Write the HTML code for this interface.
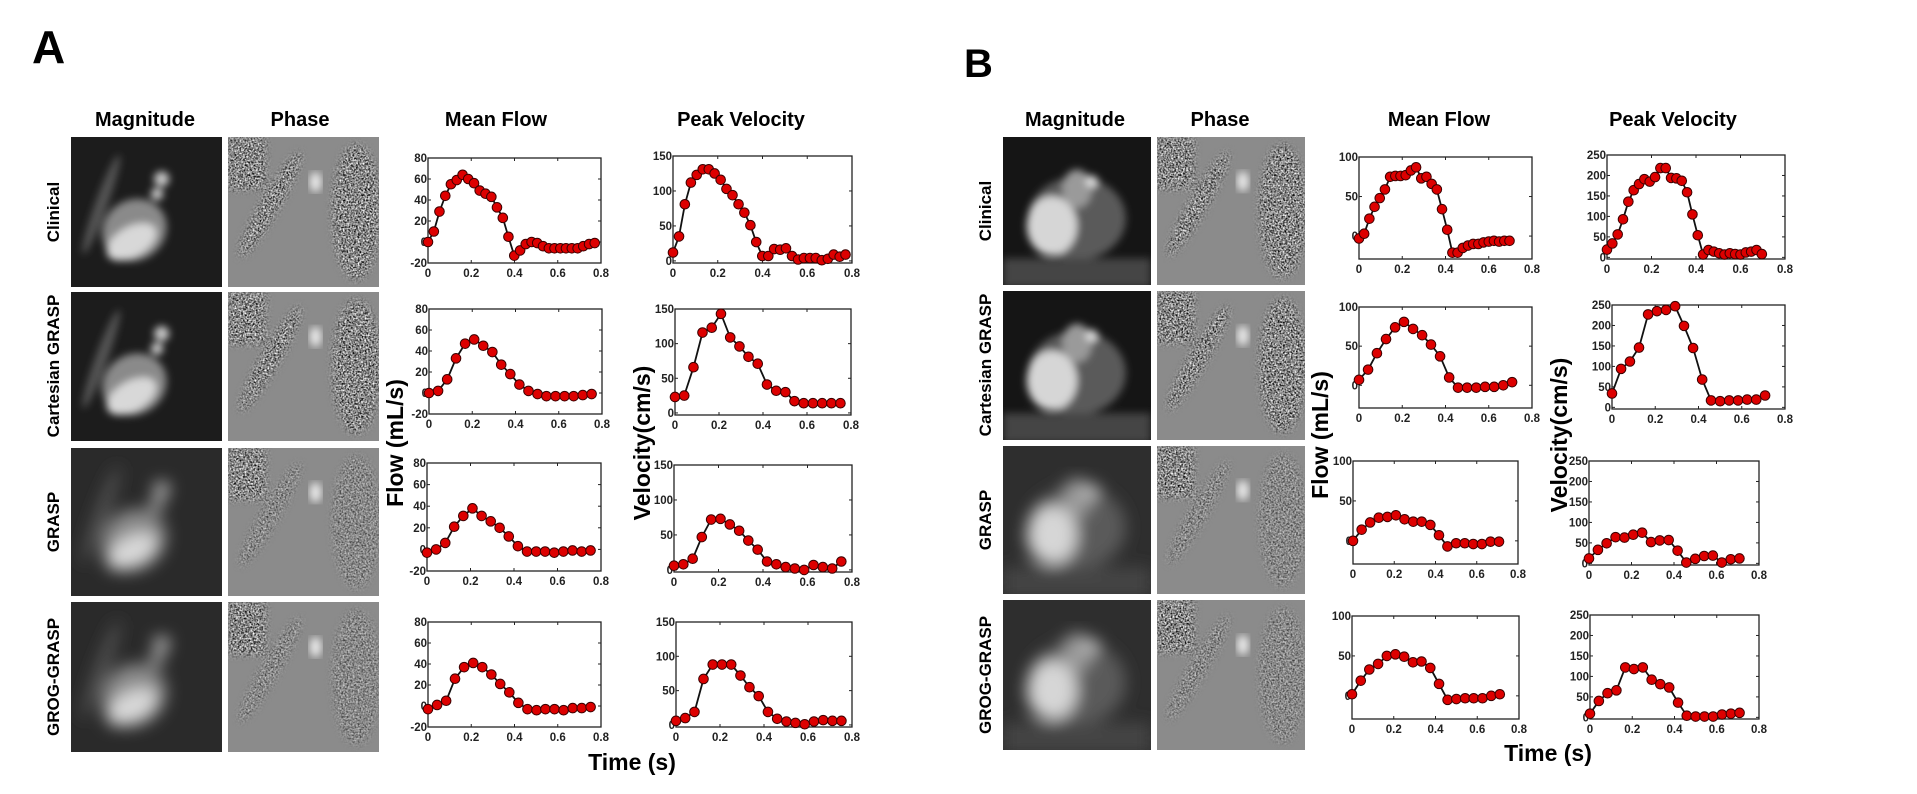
<!DOCTYPE html>
<html><head><meta charset="utf-8"><style>
html,body{margin:0;padding:0;background:#fff;}
svg{display:block;font-family:"Liberation Sans",Arial,sans-serif;}
</style></head><body>
<svg id="fig" width="1917" height="794" viewBox="0 0 1917 794" xmlns="http://www.w3.org/2000/svg">
<defs>
<filter id="noise" x="0" y="0" width="100%" height="100%">
<feTurbulence type="fractalNoise" baseFrequency="0.55" numOctaves="1" seed="3"/>
<feColorMatrix type="matrix" values="0 0 0 0 0  0 0 0 0 0  0 0 0 0 0  3 0 0 0 -1.2"/>
</filter>
<filter id="noiseW" x="0" y="0" width="100%" height="100%">
<feTurbulence type="fractalNoise" baseFrequency="0.6" numOctaves="1" seed="7"/>
<feColorMatrix type="matrix" values="0 0 0 0 1  0 0 0 0 1  0 0 0 0 1  3 0 0 0 -1.3"/>
</filter>
<filter id="blur4"><feGaussianBlur stdDeviation="4"/></filter>
<filter id="blur8"><feGaussianBlur stdDeviation="8"/></filter>
</defs>
<g id="images"></g>
<g id="charts"></g>
<text x="32" y="63" font-size="46" font-weight="bold">A</text>
<text x="964" y="77" font-size="40" font-weight="bold">B</text>
<g font-size="20" font-weight="bold" text-anchor="middle">
<text x="145" y="126">Magnitude</text>
<text x="300" y="126">Phase</text>
<text x="496" y="126">Mean Flow</text>
<text x="741" y="126">Peak Velocity</text>
<text x="1075" y="126">Magnitude</text>
<text x="1220" y="126">Phase</text>
<text x="1439" y="126">Mean Flow</text>
<text x="1673" y="126">Peak Velocity</text>
</g>
<g font-size="17" font-weight="bold" text-anchor="middle">
<text transform="translate(59,212) rotate(-90)">Clinical</text>
<text transform="translate(59,366) rotate(-90)">Cartesian GRASP</text>
<text transform="translate(59,522) rotate(-90)">GRASP</text>
<text transform="translate(59,677) rotate(-90)">GROG-GRASP</text>
<text transform="translate(991,211) rotate(-90)">Clinical</text>
<text transform="translate(991,365) rotate(-90)">Cartesian GRASP</text>
<text transform="translate(991,520) rotate(-90)">GRASP</text>
<text transform="translate(991,675) rotate(-90)">GROG-GRASP</text>
</g>
<g font-size="23" font-weight="bold" text-anchor="middle">
<text transform="translate(403,443) rotate(-90)">Flow (mL/s)</text>
<text transform="translate(650,443) rotate(-90)">Velocity(cm/s)</text>
<text x="632" y="770">Time (s)</text>
<text transform="translate(1328,435) rotate(-90)">Flow (mL/s)</text>
<text transform="translate(1567,435) rotate(-90)">Velocity(cm/s)</text>
<text x="1548" y="761">Time (s)</text>
</g>
</svg>
<script>
// ---- data ----
const xTicks = [0, 0.2, 0.4, 0.6, 0.8];
const xTickLabels = ["0", "0.2", "0.4", "0.6", "0.8"];
const flowTicksA = [-20, 0, 20, 40, 60, 80];
const velTicksA = [0, 50, 100, 150];
const flowTicksB = [0, 50, 100];
const velTicksB = [0, 50, 100, 150, 200, 250];

const timeA1 = [0,0.027,0.053,0.080,0.106,0.133,0.160,0.186,0.213,0.239,0.266,0.293,0.319,0.346,0.372,0.399,0.426,0.452,0.479,0.505,0.532,0.559,0.585,0.612,0.638,0.665,0.692,0.718,0.745,0.771];
const timeA = [0,0.042,0.084,0.125,0.167,0.209,0.251,0.293,0.334,0.376,0.418,0.460,0.502,0.543,0.585,0.627,0.669,0.711,0.752];
const timeB1 = [0,0.024,0.048,0.072,0.096,0.12,0.144,0.168,0.192,0.216,0.24,0.264,0.288,0.312,0.336,0.36,0.384,0.408,0.432,0.456,0.48,0.504,0.528,0.552,0.576,0.6,0.624,0.648,0.672,0.696];
const timeB = [0,0.042,0.083,0.125,0.167,0.208,0.25,0.292,0.333,0.375,0.417,0.458,0.5,0.542,0.583,0.625,0.667,0.708];

const flowA_clinical = [0,10,29,44,55,59,64,60,56,49,46,43,33,23,5,-13,-8,-2,0,-1,-4,-6,-6,-6,-6,-6,-6,-4,-2,-1];
const velA_clinical = [12,35,81,112,123,131,131,125,116,103,94,81,69,51,27,7,7,17,16,18,7,2,4,4,4,1,3,9,6,9];
const flowA_cart = [0,2,13,33,47,51,45,39,27,18,8,2,-1,-3,-3,-3,-3,-2,-1];
const velA_cart = [23,25,66,116,123,143,109,96,81,71,41,32,30,17,14,14,14,14,14];
const flowA_grasp = [-3,0,6,21,31,38,31,26,20,12,3,-2,-2,-2,-3,-2,-1,-2,-1];
const velA_grasp = [6,8,16,47,72,73,65,56,42,29,12,8,4,2,0,7,4,2,12];
const flowA_grog = [-3,1,5,26,37,41,37,30,21,13,3,-3,-4,-3,-3,-4,-2,-2,-1];
const velA_grog = [6,10,19,67,88,88,88,72,55,42,19,9,5,3,1,5,7,6,6];

const flowB_clinical = [-3,3,22,37,48,59,75,76,76,77,83,87,73,75,66,59,34,8,-21,-21,-15,-12,-10,-10,-8,-7,-6,-7,-6,-6];
const velB_clinical = [19,34,56,93,136,164,179,191,185,196,218,218,194,193,187,159,105,54,7,18,14,10,7,10,8,7,12,14,18,8];
const flowB_cart = [7,20,41,59,74,81,72,64,52,37,10,-3,-3,-3,-2,-2,0,4];
const velB_cart = [34,94,112,146,227,235,238,247,199,145,68,17,15,17,17,19,19,29];
const flowB_grasp = [0,14,23,29,30,32,27,24,24,20,7,-7,-3,-3,-4,-4,-1,-1];
const velB_grasp = [12,33,49,64,63,70,75,52,56,57,31,2,11,18,19,2,10,12];
const flowB_grog = [2,19,33,40,50,52,49,42,43,35,15,-5,-4,-3,-3,-3,0,2];
const velB_grog = [9,40,59,66,122,118,122,92,81,73,36,4,2,2,2,7,9,11];

const NS = "http://www.w3.org/2000/svg";
function mk(tag, attrs, parent) {
  const e = document.createElementNS(NS, tag);
  for (const k in attrs) e.setAttribute(k, attrs[k]);
  parent.appendChild(e);
  return e;
}
const chartsG = document.getElementById('charts');

function drawChart(name, box, ymin, ymax, yTicks, times, values) {
  const g = mk('g', {}, chartsG);
  
  
  const [x0, y0, x1, y1] = box;
  const sx = t => x0 + (t - 0) / 0.8 * (x1 - x0);
  const sy = v => y1 - (v - ymin) / (ymax - ymin) * (y1 - y0);
  const frame = mk('rect', {x: x0, y: y0, width: x1 - x0, height: y1 - y0, fill: 'none', stroke: '#222', 'stroke-width': 1.3}, g);
  
  
  xTicks.forEach((t, i) => {
    const x = sx(t);
    mk('line', {x1: x, y1: y1, x2: x, y2: y1 - 3, stroke: '#222'}, g);
    mk('line', {x1: x, y1: y0, x2: x, y2: y0 + 3, stroke: '#222'}, g);
    const tx = mk('text', {x: x, y: y1 + 14, 'font-size': 11.5, 'font-weight': 'bold', 'text-anchor': 'middle', fill: '#222'}, g);
    tx.textContent = xTickLabels[i];
    
    
  });
  yTicks.forEach(v => {
    const y = sy(v);
    mk('line', {x1: x0, y1: y, x2: x0 + 3, y2: y, stroke: '#222'}, g);
    mk('line', {x1: x1, y1: y, x2: x1 - 3, y2: y, stroke: '#222'}, g);
    const ty = mk('text', {x: x0 - 1, y: y + 4, 'font-size': 11.5, 'font-weight': 'bold', 'text-anchor': 'end', fill: '#222'}, g);
    ty.textContent = String(v);
    
    
  });
  const pts = times.map((t, i) => sx(t).toFixed(1) + ',' + sy(values[i]).toFixed(1)).join(' ');
  const line = mk('polyline', {points: pts, fill: 'none', stroke: '#111', 'stroke-width': 1.8}, g);
  
  
  times.forEach((t, i) => {
    const c = mk('circle', {cx: sx(t), cy: sy(values[i]), r: 4.8, fill: '#dd0000', stroke: '#3a0000', 'stroke-width': 1}, g);
    
    
  });
}

drawChart('mean-flow-clinical-a', [428,158,601,263], -20, 80, flowTicksA, timeA1, flowA_clinical);
drawChart('peak-velocity-clinical-a', [673,156,852,263], -3, 150, velTicksA, timeA1, velA_clinical);
drawChart('mean-flow-cartesian-a', [429,309,602,414], -20, 80, flowTicksA, timeA, flowA_cart);
drawChart('peak-velocity-cartesian-a', [675,309,851,415], -3, 150, velTicksA, timeA, velA_cart);
drawChart('mean-flow-grasp-a', [427,463,601,571], -20, 80, flowTicksA, timeA, flowA_grasp);
drawChart('peak-velocity-grasp-a', [674,465,852,572], -3, 150, velTicksA, timeA, velA_grasp);
drawChart('mean-flow-grog-a', [428,622,601,727], -20, 80, flowTicksA, timeA, flowA_grog);
drawChart('peak-velocity-grog-a', [676,622,852,727], -3, 150, velTicksA, timeA, velA_grog);

drawChart('mean-flow-clinical-b', [1359,157,1532,259], -29, 100, flowTicksB, timeB1, flowB_clinical);
drawChart('peak-velocity-clinical-b', [1607,155,1785,259], -4, 250, velTicksB, timeB1, velB_clinical);
drawChart('mean-flow-cartesian-b', [1359,307,1532,408], -29, 100, flowTicksB, timeB, flowB_cart);
drawChart('peak-velocity-cartesian-b', [1612,305,1785,409], -4, 250, velTicksB, timeB, velB_cart);
drawChart('mean-flow-grasp-b', [1353,461,1518,564], -29, 100, flowTicksB, timeB, flowB_grasp);
drawChart('peak-velocity-grasp-b', [1589,461,1759,565], -4, 250, velTicksB, timeB, velB_grasp);
drawChart('mean-flow-grog-b', [1352,616,1519,719], -29, 100, flowTicksB, timeB, flowB_grog);
drawChart('peak-velocity-grog-b', [1590,615,1759,719], -4, 250, velTicksB, timeB, velB_grog);

// ---- MRI-like image tiles ----
const imgG = document.getElementById('images');
const rowsA = [[137,150],[292,149],[448,148],[602,150]];
const rowsB = [[137,148],[291,149],[446,148],[600,150]];
const rowNames = ['clinical','cartesian-grasp','grasp','grog-grasp'];
let clipId = 0;
function magTile(name, x, y, w, h, blurry, bgc, style) {
  const g = mk('g', {}, imgG);
  
  
  const id = 'c' + (clipId++);
  const cp = mk('clipPath', {id: id}, g);
  mk('rect', {x: x, y: y, width: w, height: h}, cp);
  const inner = mk('g', {'clip-path': 'url(#' + id + ')'}, g);
  mk('rect', {x: x, y: y, width: w, height: h, fill: bgc}, inner);
  const fg = mk('g', {filter: blurry ? 'url(#blur8)' : 'url(#blur4)'}, inner);
  if (style === 'A') {
    mk('ellipse', {cx: x + w*0.42, cy: y + h*0.62, rx: w*0.22, ry: h*0.2, fill: '#8a8a8a', transform: 'rotate(-35 ' + (x+w*0.42) + ' ' + (y+h*0.62) + ')'}, fg);
    mk('ellipse', {cx: x + w*0.4, cy: y + h*0.7, rx: w*0.18, ry: h*0.1, fill: '#d8d8d8', transform: 'rotate(-30 ' + (x+w*0.4) + ' ' + (y+h*0.7) + ')'}, fg);
    mk('circle', {cx: x + w*0.6, cy: y + h*0.28, r: w*0.05, fill: '#c8c8c8'}, fg);
    mk('circle', {cx: x + w*0.57, cy: y + h*0.38, r: w*0.04, fill: '#d0d0d0'}, fg);
    mk('ellipse', {cx: x + w*0.2, cy: y + h*0.45, rx: w*0.04, ry: h*0.35, fill: '#555', transform: 'rotate(20 ' + (x+w*0.2) + ' ' + (y+h*0.45) + ')'}, fg);
  } else {
    mk('ellipse', {cx: x + w*0.5, cy: y + h*0.55, rx: w*0.33, ry: h*0.28, fill: '#5a5a5a'}, fg);
    mk('ellipse', {cx: x + w*0.33, cy: y + h*0.6, rx: w*0.17, ry: h*0.2, fill: '#d6d6d6'}, fg);
    mk('ellipse', {cx: x + w*0.5, cy: y + h*0.35, rx: w*0.1, ry: h*0.13, fill: '#9a9a9a'}, fg);
    mk('circle', {cx: x + w*0.6, cy: y + h*0.3, r: w*0.04, fill: '#e0e0e0'}, fg);
    mk('rect', {x: x, y: y + h*0.82, width: w, height: h*0.2, fill: '#444'}, fg);
  }
}
function phaseTile(name, x, y, w, h, noisy) {
  const g = mk('g', {}, imgG);
  
  
  const id = 'c' + (clipId++);
  const cp = mk('clipPath', {id: id}, g);
  mk('rect', {x: x, y: y, width: w, height: h}, cp);
  const inner = mk('g', {'clip-path': 'url(#' + id + ')'}, g);
  mk('rect', {x: x, y: y, width: w, height: h, fill: '#8b8b8b'}, inner);
  const mid = 'm' + (clipId++);
  const m = mk('mask', {id: mid}, g);
  mk('rect', {x: x, y: y, width: w, height: h, fill: '#000'}, m);
  const mg = mk('g', {filter: 'url(#blur4)'}, m);
  mk('rect', {x: x, y: y, width: w*0.25, height: h*0.35, fill: '#fff'}, mg);
  mk('ellipse', {cx: x + w*0.85, cy: y + h*0.5, rx: w*0.16, ry: h*0.45, fill: noisy ? '#fff' : '#888'}, mg);
  mk('ellipse', {cx: x + w*0.28, cy: y + h*0.45, rx: w*0.06, ry: h*0.4, fill: noisy ? '#fff' : '#999', transform: 'rotate(30 ' + (x+w*0.28) + ' ' + (y+h*0.45) + ')'}, mg);
  const ng = mk('g', {mask: 'url(#' + mid + ')'}, inner);
  mk('rect', {x: x, y: y, width: w, height: h, filter: 'url(#noise)'}, ng);
  mk('rect', {x: x, y: y, width: w, height: h, filter: 'url(#noiseW)'}, ng);
  mk('ellipse', {cx: x + w*0.58, cy: y + h*0.3, rx: 6, ry: 10, fill: '#e8e8e8', filter: 'url(#blur4)'}, inner);
}
rowsA.forEach((r, i) => {
  const blurry = i >= 2;
  magTile('magnitude-image-' + rowNames[i] + '-a', 71, r[0], 151, r[1], blurry, blurry ? '#2a2a2a' : '#1c1c1c', 'A');
  phaseTile('phase-image-' + rowNames[i] + '-a', 228, r[0], 151, r[1], !blurry);
});
rowsB.forEach((r, i) => {
  const blurry = i >= 2;
  magTile('magnitude-image-' + rowNames[i] + '-b', 1003, r[0], 148, r[1], blurry, blurry ? '#2e2e2e' : '#151515', 'B');
  phaseTile('phase-image-' + rowNames[i] + '-b', 1157, r[0], 148, r[1], i < 2);
});
</script>
</body></html>
